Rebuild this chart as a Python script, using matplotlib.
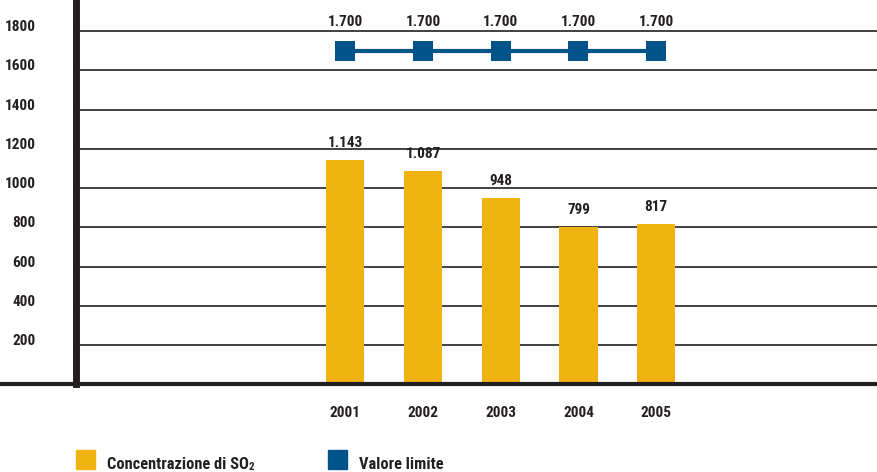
import matplotlib
matplotlib.use("Agg")
import matplotlib.pyplot as plt
from matplotlib import font_manager

# Data
years = ["2001", "2002", "2003", "2004", "2005"]
so2_concentration = [1143, 1087, 948, 799, 817]
limit_value = [1700, 1700, 1700, 1700, 1700]
y_ticks = [200, 400, 600, 800, 1000, 1200, 1400, 1600, 1800]
legend_labels = ["Concentrazione di SO", "Valore limite"]

YELLOW = "#F0B312"
BLUE = "#00548A"
INK = "#231F20"

available = {f.name for f in font_manager.fontManager.ttflist}
family = [f for f in ["Liberation Sans Narrow", "Roboto Condensed", "DejaVu Sans"] if f in available]
plt.rcParams["font.family"] = family
plt.rcParams["font.weight"] = "bold"


def fmt(v):
    return f"{v:,}".replace(",", ".")


W, H = 877, 472
fig = plt.figure(figsize=(W / 100, H / 100), dpi=100)
ax_left_px, ax_bottom_px = 75.5, 384.25
ax = fig.add_axes([ax_left_px / W, (H - ax_bottom_px) / H,
                   1 - ax_left_px / W, ax_bottom_px / H])

x = list(range(len(years)))
ax.set_xlim(-3.47, 6.84)
ax.set_ylim(0, 1958)

# Horizontal grid
ax.hlines(y_ticks, ax.get_xlim()[0], ax.get_xlim()[1], colors=INK, linewidth=1.2, zorder=1)

# Bars
ax.bar(x, so2_concentration, width=0.49, color=YELLOW, zorder=2)
for xi, v in zip(x, so2_concentration):
    ax.annotate(fmt(v), (xi, v), xytext=(0, 9.5), textcoords="offset points",
                ha="center", va="baseline", fontsize=11, fontweight="bold", color=INK)

# Limit line
ax.plot(x, limit_value, color=BLUE, linewidth=3, marker="s", markersize=13.7,
        markeredgewidth=0, zorder=3)
for xi, v in zip(x, limit_value):
    ax.annotate(fmt(v), (xi, v), xytext=(0, 18), textcoords="offset points",
                ha="center", va="baseline", fontsize=11, fontweight="bold", color=INK)

# Axes styling
for s in ["top", "right", "bottom"]:
    ax.spines[s].set_visible(False)
ax.spines["left"].set_linewidth(5)
ax.spines["left"].set_color(INK)
ax.plot([-ax_left_px / (W - ax_left_px), 1], [0, 0], transform=ax.get_yaxis_transform(),
        color=INK, linewidth=3, clip_on=False, zorder=4, solid_capstyle="butt")

ax.set_yticks(y_ticks)
ax.set_yticklabels([str(t) for t in y_ticks])
ax.tick_params(axis="y", length=0, pad=28.5, labelsize=11, labelcolor=INK)
for lbl in ax.get_yticklabels():
    lbl.set_verticalalignment("baseline")
    lbl.set_fontweight("bold")
ax.set_xticks([])

# Year labels under the axis
for xi, yr in zip(x, years):
    ax.text(xi, (ax_bottom_px - 417) / ax_bottom_px, yr, transform=ax.get_xaxis_transform(),
            ha="center", va="baseline", fontsize=11, fontweight="bold", color=INK)

# Legend
def legend_item(x_px, color, label):
    fig.patches.append(plt.Rectangle((x_px / W, (H - 469) / H), 19 / W, 19 / H,
                                     transform=fig.transFigure, color=color))
    return fig.text((x_px + 31) / W, (H - 469) / H, label, ha="left", va="baseline",
                    fontsize=11.8, fontweight="bold", color=INK)

t1 = legend_item(76, YELLOW, legend_labels[0])
ax.annotate("2", xy=(1, 0), xycoords=t1, ha="left", va="bottom",
            fontsize=8, fontweight="bold", color=INK, annotation_clip=False)
legend_item(328, BLUE, legend_labels[1])

fig.savefig("out.png", dpi=100)
